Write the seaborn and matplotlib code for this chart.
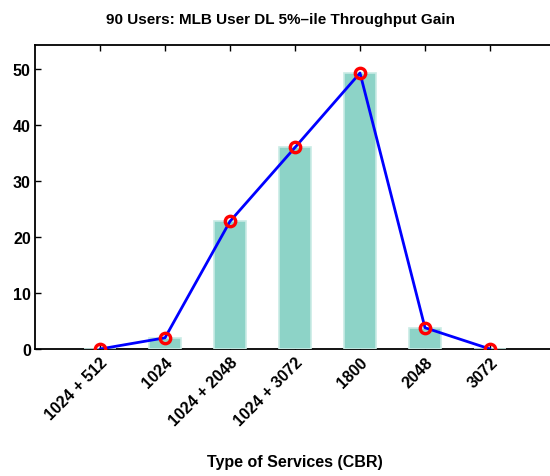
import matplotlib
matplotlib.use("Agg")
import matplotlib.pyplot as plt
import seaborn as sns
import pandas as pd

# Service mixes (CBR rates, kbps) and the 5th-percentile DL throughput gain (%)
services = ["1024 + 512", "1024", "1024 + 2048", "1024 + 3072", "1800", "2048", "3072"]
gain = [0.0, 2.0, 22.8, 36.0, 49.3, 3.8, 0.0]

df = pd.DataFrame({"service": services, "gain": gain})

sns.set_style("white")
plt.rcParams["font.family"] = ["Liberation Sans", "DejaVu Sans"]
plt.rcParams["font.weight"] = "bold"
plt.rcParams["text.color"] = "black"
plt.rcParams["axes.labelcolor"] = "black"
plt.rcParams["xtick.color"] = "black"
plt.rcParams["ytick.color"] = "black"

fig = plt.figure(figsize=(5.5, 4.77), dpi=100)
ax = fig.add_axes([35 / 550, 127 / 477, 520 / 550, 304 / 477])

sns.barplot(data=df, x="service", y="gain", color="#8dd3c7", saturation=1,
            width=0.5, edgecolor="#c9ebe5", linewidth=1.2, ax=ax, zorder=3)
ax.plot(range(len(services)), gain, color="#0000ff", lw=2, marker="o",
        ms=7.5, mfc="none", mec="#ff0000", mew=2.4, zorder=4)

ax.set_xlim(-1, 7)
ax.set_ylim(0, 54.3)
ax.set_yticks([0, 10, 20, 30, 40, 50])
ax.tick_params(axis="both", direction="in", length=4, width=1, colors="black",
               labelsize=11.5, top=True, bottom=True, left=True, right=False)
ax.tick_params(axis="y", pad=3)
ax.set_xticks(range(len(services)))
ax.set_xticklabels(services, rotation=45, ha="right", rotation_mode="anchor",
                   fontweight="bold", color="black")
for lbl in ax.get_yticklabels():
    lbl.set_fontweight("bold")
    lbl.set_color("black")

for side in ["top", "bottom", "left", "right"]:
    ax.spines[side].set_color("black")
    ax.spines[side].set_linewidth(1.3)

ax.set_ylabel("")
ax.set_xlabel("Type of Services (CBR)", fontsize=11.5, fontweight="bold",
              color="black")
ax.xaxis.set_label_coords(0.5, -113 / 304)
ax.xaxis.label.set_va("center")
ax.set_title("90 Users: MLB User DL 5%\u2013ile Throughput Gain",
             fontsize=11, fontweight="bold", color="black", pad=16,
             x=(281 - 35) / 520)

fig.savefig("out.png", dpi=100)
